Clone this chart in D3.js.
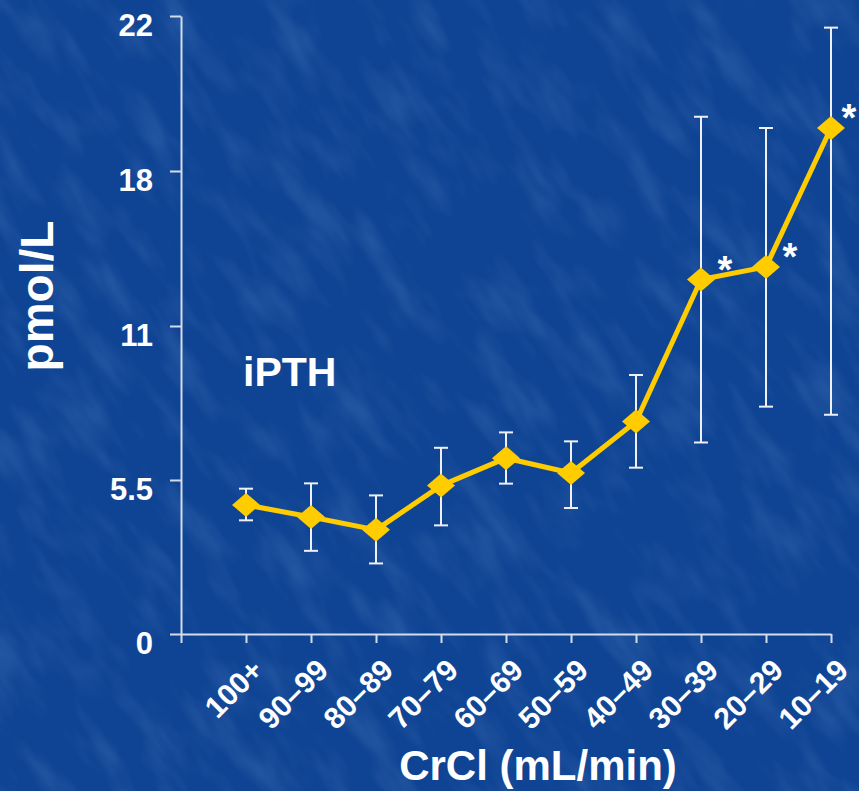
<!DOCTYPE html>
<html>
<head>
<meta charset="utf-8">
<script src="https://cdn.jsdelivr.net/npm/d3@7"></script>
<style>
  html, body { margin: 0; padding: 0; background: #104596; }
  svg { display: block; }
  text { font-family: "Liberation Sans", Arial, sans-serif; font-weight: bold; fill: #ffffff; }
</style>
</head>
<body>
<script>
// ---- data ----
const categories = ["100+", "90–99", "80–89", "70–79", "60–69", "50–59", "40–49", "30–39", "20–29", "10–19"];
const meanValues = [4.61, 4.18, 3.72, 5.30, 6.28, 5.75, 7.59, 13.10, 13.67, 19.11];
const upperValues = [5.19, 5.38, 4.95, 6.65, 7.20, 6.88, 9.25, 19.40, 19.11, 21.70];
const lowerValues = [4.06, 2.97, 2.52, 3.88, 5.37, 4.50, 5.94, 6.84, 8.12, 7.83];
const significant = [false, false, false, false, false, false, false, true, true, true];
const yTickValues = [0, 5.5, 11, 18, 22];
const yTickLabels = ["0", "5.5", "11", "18", "22"];
const seriesLabel = "iPTH";
const yTitle = "pmol/L";
const xTitle = "CrCl (mL/min)";

const W = 859, H = 791;
const svg = d3.select("body").append("svg").attr("width", W).attr("height", H);

// background with subtle diagonal texture
const defs = svg.append("defs");
const f = defs.append("filter").attr("id", "tex").attr("x", 0).attr("y", 0).attr("width", "100%").attr("height", "100%");
f.append("feTurbulence").attr("type", "fractalNoise").attr("baseFrequency", "0.035 0.012").attr("numOctaves", 3).attr("seed", 11).attr("result", "n");
f.append("feColorMatrix").attr("in", "n").attr("type", "matrix")
  .attr("values", "0 0 0 0 0.30  0 0 0 0 0.50  0 0 0 0 0.82  0 0 0 1.1 -0.5");
svg.append("rect").attr("width", W).attr("height", H).attr("fill", "#0f4494");
svg.append("rect").attr("x", -400).attr("y", -400).attr("width", W + 800).attr("height", H + 800)
  .attr("transform", `rotate(-35,${W / 2},${H / 2})`)
  .attr("filter", "url(#tex)").attr("opacity", 0.32);

// scales
const x = d3.scaleLinear().domain([-1, categories.length - 1]).range([181, 831]);
const y = d3.scaleLinear().domain(yTickValues).range([634, 480, 326, 171, 16]);

const axisColor = "#d4dcea";

// y axis
const yAxis = d3.axisLeft(y).tickValues(yTickValues).tickFormat((d, i) => yTickLabels[i]).tickSize(11).tickSizeOuter(0);
const gy = svg.append("g").attr("transform", "translate(181,0)").call(yAxis);
gy.select(".domain").attr("stroke", axisColor).attr("stroke-width", 2);
gy.selectAll(".tick line").attr("stroke", axisColor).attr("stroke-width", 2);
gy.selectAll(".tick text").attr("x", -28).attr("dy", "0.86em").attr("y", -7)
  .style("font-size", "31px").style("font-family", "Liberation Sans, Arial, sans-serif").style("font-weight", "bold").attr("fill", "#fff");

// x axis
const xAxis = d3.axisBottom(x).tickValues(d3.range(-1, categories.length)).tickFormat(() => "").tickSize(9).tickSizeOuter(0);
const gx = svg.append("g").attr("transform", "translate(0,634)").call(xAxis);
gx.select(".domain").attr("stroke", axisColor).attr("stroke-width", 2);
gx.selectAll(".tick line").attr("stroke", axisColor).attr("stroke-width", 2);

// x labels rotated
svg.append("g").selectAll("text").data(categories).join("text")
  .attr("transform", (d, i) => `translate(${x(i) + 19},672) rotate(-45)`)
  .attr("text-anchor", "end")
  .style("font-size", "30px")
  .text(d => d);

// titles
svg.append("text").attr("transform", "translate(53,296) rotate(-90)")
  .attr("text-anchor", "middle").style("font-size", "46px").text(yTitle);
svg.append("text").attr("x", 538).attr("y", 780).attr("text-anchor", "middle")
  .style("font-size", "42px").text(xTitle);
svg.append("text").attr("x", 243).attr("y", 386).style("font-size", "41px").text(seriesLabel);

// error bars
const eb = svg.append("g").attr("stroke", "#eef0f6").attr("stroke-width", 2).attr("fill", "none");
categories.forEach((c, i) => {
  const cx = x(i);
  eb.append("line").attr("x1", cx).attr("x2", cx).attr("y1", y(upperValues[i])).attr("y2", y(lowerValues[i]));
  eb.append("line").attr("x1", cx - 7).attr("x2", cx + 7).attr("y1", y(upperValues[i])).attr("y2", y(upperValues[i]));
  eb.append("line").attr("x1", cx - 7).attr("x2", cx + 7).attr("y1", y(lowerValues[i])).attr("y2", y(lowerValues[i]));
});

// line
const line = d3.line().x((d, i) => x(i)).y(d => y(d));
svg.append("path").datum(meanValues).attr("d", line)
  .attr("fill", "none").attr("stroke", "#ffcc00").attr("stroke-width", 5).attr("stroke-linejoin", "round");

// diamond markers
svg.append("g").selectAll("path").data(meanValues).join("path")
  .attr("transform", (d, i) => `translate(${x(i)},${y(d)})`)
  .attr("d", "M-14,0L0,-12L14,0L0,12Z")
  .attr("fill", "#ffcc00");

// significance asterisks
svg.append("g").selectAll("text").data(meanValues.map((v, i) => ({ v, i })).filter(d => significant[d.i])).join("text")
  .attr("x", d => Math.min(x(d.i) + 24, W - 10)).attr("y", d => y(d.v) + 3)
  .attr("text-anchor", "middle").style("font-size", "38px").text("*");
</script>
</body>
</html>
